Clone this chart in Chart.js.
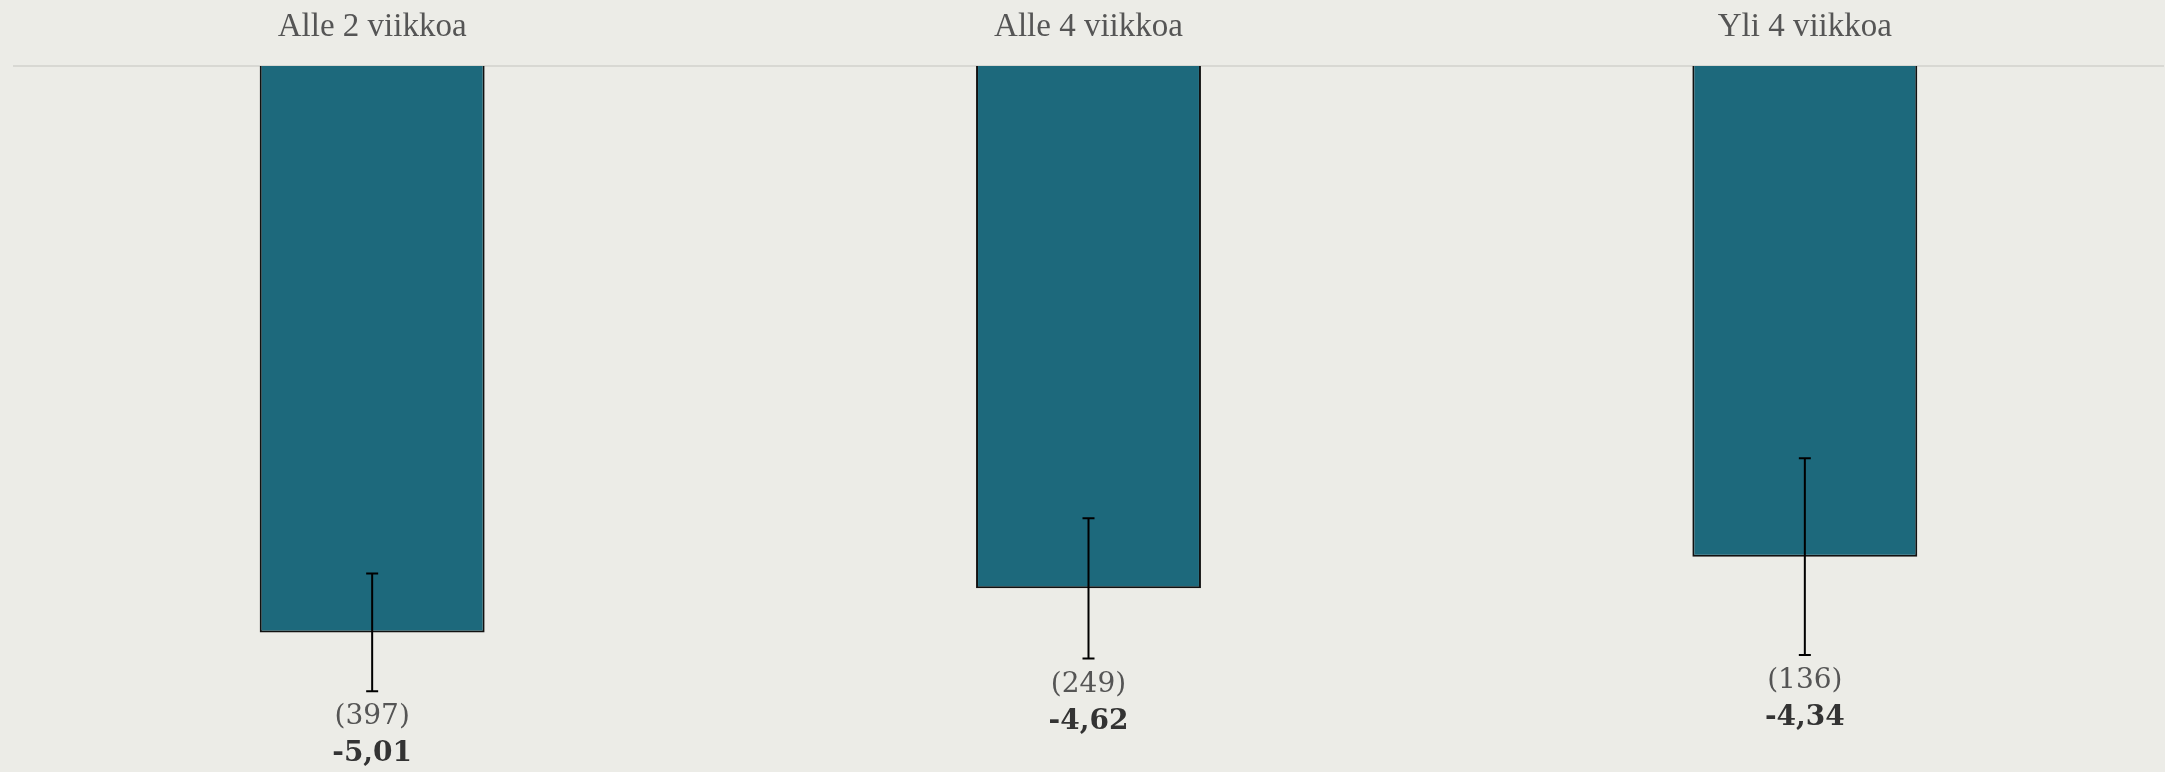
<!DOCTYPE html>
<html>
<head>
<meta charset="utf-8">
<script src="https://cdn.jsdelivr.net/npm/chart.js@4.4.1/dist/chart.umd.min.js"></script>
<style>
  html, body { margin: 0; padding: 0; background: #ecece7; }
  #chart { display: block; }
</style>
</head>
<body>
<canvas id="chart" width="2165" height="772"></canvas>
<script>
const categories = ["Alle 2 viikkoa", "Alle 4 viikkoa", "Yli 4 viikkoa"];
const values = [-5.01, -4.62, -4.34];
const errMargin = [0.52, 0.62, 0.87];
const counts = ["(397)", "(249)", "(136)"];
const valueLabels = ["-5,01", "-4,62", "-4,34"];

// error bars + labels under them
const errorBars = {
  id: "errorBars",
  afterDatasetsDraw(chart) {
    const { ctx, scales } = chart;
    const meta = chart.getDatasetMeta(0);
    ctx.save();
    meta.data.forEach((bar, i) => {
      const x = bar.x;
      const yTop = scales.y.getPixelForValue(values[i] + errMargin[i]);
      const yBot = scales.y.getPixelForValue(values[i] - errMargin[i]);
      ctx.strokeStyle = "#000";
      ctx.lineWidth = 2;
      ctx.beginPath();
      ctx.moveTo(x, yTop); ctx.lineTo(x, yBot);
      ctx.moveTo(x - 6, yTop); ctx.lineTo(x + 6, yTop);
      ctx.moveTo(x - 6, yBot); ctx.lineTo(x + 6, yBot);
      ctx.stroke();

      ctx.textAlign = "center";
      ctx.textBaseline = "middle";
      ctx.fillStyle = "#555";
      ctx.font = "28px 'DejaVu Serif'";
      ctx.fillText(counts[i], x, yBot + 26);
      ctx.fillStyle = "#333";
      ctx.font = "bold 28px 'DejaVu Serif'";
      ctx.fillText(valueLabels[i], x, yBot + 63);
    });
    ctx.restore();
  }
};

new Chart(document.getElementById("chart").getContext("2d"), {
  type: "bar",
  data: {
    labels: categories,
    datasets: [{
      data: values,
      backgroundColor: "#1d697c",
      borderColor: "#111",
      borderWidth: 2,
      categoryPercentage: 1,
      barPercentage: 0.314
    }]
  },
  options: {
    responsive: false,
    animation: false,
    devicePixelRatio: 1,
    layout: { padding: { left: 14, right: 2, top: 0, bottom: 0 } },
    plugins: { legend: { display: false }, tooltip: { enabled: false } },
    scales: {
      x: {
        position: "top",
        grid: { display: false, drawTicks: false },
        border: { display: true, color: "#d8d8d3", width: 2 },
        ticks: { color: "#555", font: { family: "'Liberation Serif'", size: 33 }, padding: 19 },
        afterFit(scale) { scale.height = 66; }
      },
      y: {
        display: false,
        min: -6.245,
        max: 0
      }
    }
  },
  plugins: [errorBars]
});
</script>
</body>
</html>
